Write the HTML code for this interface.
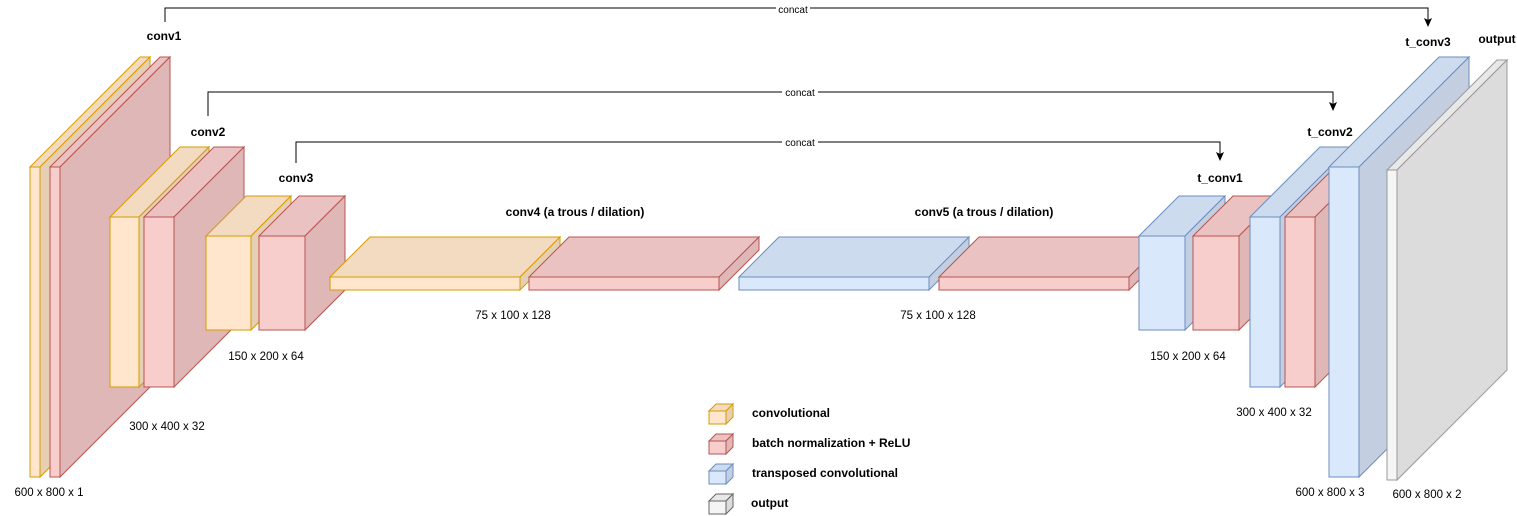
<!DOCTYPE html>
<html><head><meta charset="utf-8"><style>
html,body{margin:0;padding:0;background:#fff;}
svg{display:block;}
text{font-family:"Liberation Sans",Arial,sans-serif;fill:#000;}
.b{font-weight:bold;font-size:12px;}
.n{font-size:11.5px;}
.c{font-size:10px;}
.O{stroke:#d79b00;stroke-width:1;}
.R{stroke:#b85450;stroke-width:1;}
.B{stroke:#6c8ebf;stroke-width:1;}
.G{stroke:#999;stroke-width:1;}
</style></head><body>
<svg width="1517" height="516" viewBox="0 0 1517 516" xmlns="http://www.w3.org/2000/svg">
<!-- connectors -->
<g fill="none" stroke="#000" stroke-width="1">
<path d="M165,22 V8 H1428 V22"/>
<path d="M208,116 V92 H1333 V106"/>
<path d="M296,163 V142 H1220 V156"/>
</g>
<g fill="#000">
<path d="M1424,18 L1428,27 L1432,18 L1428,20 Z"/>
<path d="M1329,102 L1333,111 L1337,102 L1333,104 Z"/>
<path d="M1216,152 L1220,161 L1224,152 L1220,154 Z"/>
</g>
<rect x="776" y="4" width="34" height="10" fill="#fff"/><text class="c" x="793" y="13" text-anchor="middle">concat</text>
<rect x="782" y="87" width="36" height="10" fill="#fff"/><text class="c" x="800" y="96" text-anchor="middle">concat</text>
<rect x="782" y="137" width="36" height="10" fill="#fff"/><text class="c" x="800" y="146" text-anchor="middle">concat</text>

<g class="O"><rect x="30" y="167" width="10" height="310" fill="#ffe6cc"/><polygon points="30,167 140,57 150,57 40,167" fill="#f2dbc0"/><polygon points="40,167 150,57 150,367 40,477" fill="#e6cfb5"/></g>
<g class="R"><rect x="50" y="167" width="10" height="310" fill="#f8cecc"/><polygon points="50,167 160,57 170,57 60,167" fill="#eac2c1"/><polygon points="60,167 170,57 170,367 60,477" fill="#dfb7b6"/></g>
<g class="O"><rect x="110" y="217" width="29" height="170" fill="#ffe6cc"/><polygon points="110,217 180,147 209,147 139,217" fill="#f2dbc0"/><polygon points="139,217 209,147 209,317 139,387" fill="#e6cfb5"/></g>
<g class="R"><rect x="144" y="217" width="30" height="170" fill="#f8cecc"/><polygon points="144,217 214,147 244,147 174,217" fill="#eac2c1"/><polygon points="174,217 244,147 244,317 174,387" fill="#dfb7b6"/></g>
<g class="O"><rect x="206" y="236" width="45" height="94" fill="#ffe6cc"/><polygon points="206,236 246,196 291,196 251,236" fill="#f2dbc0"/><polygon points="251,236 291,196 291,290 251,330" fill="#e6cfb5"/></g>
<g class="R"><rect x="259" y="236" width="46" height="94" fill="#f8cecc"/><polygon points="259,236 299,196 345,196 305,236" fill="#eac2c1"/><polygon points="305,236 345,196 345,290 305,330" fill="#dfb7b6"/></g>
<g class="O"><rect x="330" y="277" width="190" height="13" fill="#ffe6cc"/><polygon points="330,277 370,237 560,237 520,277" fill="#f2dbc0"/><polygon points="520,277 560,237 560,250 520,290" fill="#e6cfb5"/></g>
<g class="R"><rect x="529" y="277" width="190" height="13" fill="#f8cecc"/><polygon points="529,277 569,237 759,237 719,277" fill="#eac2c1"/><polygon points="719,277 759,237 759,250 719,290" fill="#dfb7b6"/></g>
<g class="B"><rect x="739" y="277" width="190" height="13" fill="#dae8fc"/><polygon points="739,277 779,237 969,237 929,277" fill="#cddbee"/><polygon points="929,277 969,237 969,250 929,290" fill="#c3cfe0"/></g>
<g class="R"><rect x="939" y="277" width="190" height="13" fill="#f8cecc"/><polygon points="939,277 979,237 1169,237 1129,277" fill="#eac2c1"/><polygon points="1129,277 1169,237 1169,250 1129,290" fill="#dfb7b6"/></g>
<g class="B"><rect x="1139" y="236" width="46" height="94" fill="#dae8fc"/><polygon points="1139,236 1179,196 1225,196 1185,236" fill="#cddbee"/><polygon points="1185,236 1225,196 1225,290 1185,330" fill="#c3cfe0"/></g>
<g class="R"><rect x="1193" y="236" width="46" height="94" fill="#f8cecc"/><polygon points="1193,236 1233,196 1279,196 1239,236" fill="#eac2c1"/><polygon points="1239,236 1279,196 1279,290 1239,330" fill="#dfb7b6"/></g>
<g class="B"><rect x="1250" y="217" width="30" height="170" fill="#dae8fc"/><polygon points="1250,217 1320,147 1350,147 1280,217" fill="#cddbee"/><polygon points="1280,217 1350,147 1350,317 1280,387" fill="#c3cfe0"/></g>
<g class="R"><rect x="1285" y="217" width="30" height="170" fill="#f8cecc"/><polygon points="1285,217 1355,147 1385,147 1315,217" fill="#eac2c1"/><polygon points="1315,217 1385,147 1385,317 1315,387" fill="#dfb7b6"/></g>
<g class="B"><rect x="1329" y="167" width="30" height="310" fill="#dae8fc"/><polygon points="1329,167 1439,57 1469,57 1359,167" fill="#cddbee"/><polygon points="1359,167 1469,57 1469,367 1359,477" fill="#c3cfe0"/></g>
<g class="G"><rect x="1387" y="170" width="10" height="310" fill="#f5f5f5"/><polygon points="1387,170 1497,60 1507,60 1397,170" fill="#e8e8e8"/><polygon points="1397,170 1507,60 1507,370 1397,480" fill="#dcdcdc"/></g>

<text class="b" x="164" y="40" text-anchor="middle">conv1</text>
<text class="b" x="208" y="136" text-anchor="middle">conv2</text>
<text class="b" x="296" y="182" text-anchor="middle">conv3</text>
<text class="b" x="575" y="216" text-anchor="middle">conv4 (a trous / dilation)</text>
<text class="b" x="984" y="216" text-anchor="middle">conv5 (a trous / dilation)</text>
<text class="b" x="1220" y="182" text-anchor="middle">t_conv1</text>
<text class="b" x="1330" y="136" text-anchor="middle">t_conv2</text>
<text class="b" x="1428" y="46" text-anchor="middle">t_conv3</text>
<text class="b" x="1497" y="43" text-anchor="middle">output</text>

<text class="n" x="49" y="496" text-anchor="middle">600 x 800 x 1</text>
<text class="n" x="167" y="430" text-anchor="middle">300 x 400 x 32</text>
<text class="n" x="266" y="360" text-anchor="middle">150 x 200 x 64</text>
<text class="n" x="513" y="319" text-anchor="middle">75 x 100 x 128</text>
<text class="n" x="938" y="319" text-anchor="middle">75 x 100 x 128</text>
<text class="n" x="1188" y="360" text-anchor="middle">150 x 200 x 64</text>
<text class="n" x="1274" y="416" text-anchor="middle">300 x 400 x 32</text>
<text class="n" x="1330" y="496" text-anchor="middle">600 x 800 x 3</text>
<text class="n" x="1427" y="498" text-anchor="middle">600 x 800 x 2</text>

<g class="O"><rect x="709" y="411" width="17" height="13" fill="#ffe6cc"/><polygon points="709,411 716,404 733,404 726,411" fill="#f2dbc0"/><polygon points="726,411 733,404 733,417 726,424" fill="#e6cfb5"/></g>
<g class="R"><rect x="709" y="441" width="17" height="13" fill="#f8cecc"/><polygon points="709,441 716,434 733,434 726,441" fill="#eac2c1"/><polygon points="726,441 733,434 733,447 726,454" fill="#dfb7b6"/></g>
<g class="B"><rect x="709" y="471" width="17" height="13" fill="#dae8fc"/><polygon points="709,471 716,464 733,464 726,471" fill="#cddbee"/><polygon points="726,471 733,464 733,477 726,484" fill="#c3cfe0"/></g>
<g stroke="#666" stroke-width="1"><rect x="709" y="501" width="17" height="13" fill="#f5f5f5"/><polygon points="709,501 716,494 733,494 726,501" fill="#e8e8e8"/><polygon points="726,501 733,494 733,507 726,514" fill="#dcdcdc"/></g>
<text class="b" x="752" y="417">convolutional</text>
<text class="b" x="752" y="447">batch normalization + ReLU</text>
<text class="b" x="752" y="477">transposed convolutional</text>
<text class="b" x="751" y="507">output</text>
</svg>
</body></html>
